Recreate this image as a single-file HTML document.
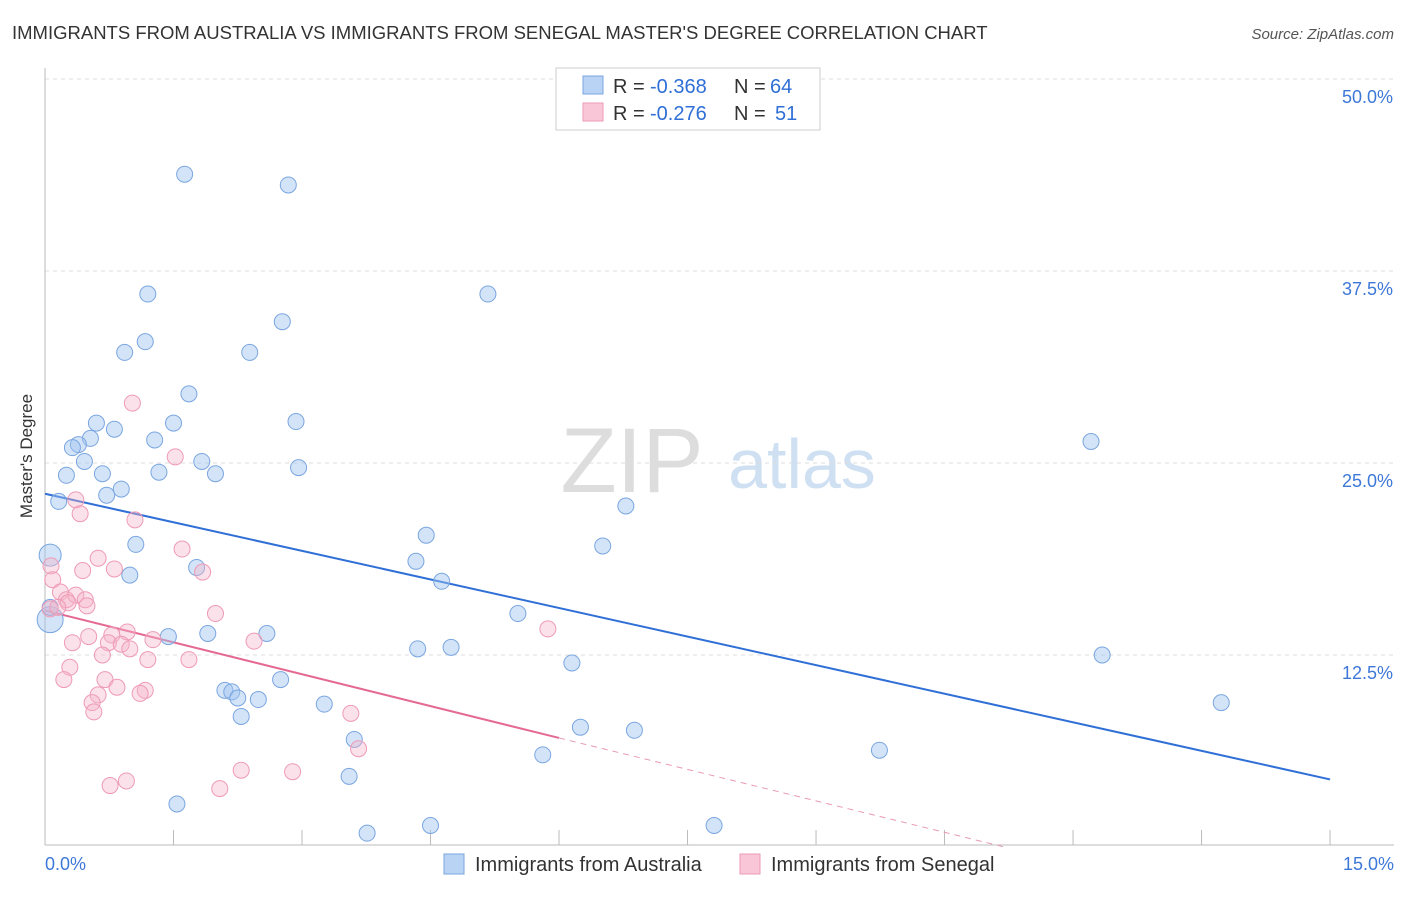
<!DOCTYPE html>
<html><head><meta charset="utf-8"><style>
body{margin:0;background:#fff;font-family:"Liberation Sans",sans-serif;}
svg text{font-family:"Liberation Sans",sans-serif;}
</style></head><body>
<svg id="chart" width="1406" height="892">
<text x="12" y="39" font-size="18.5" fill="#333">IMMIGRANTS FROM AUSTRALIA VS IMMIGRANTS FROM SENEGAL MASTER'S DEGREE CORRELATION CHART</text>
<text x="1394" y="39" font-size="15" fill="#555" font-style="italic" text-anchor="end">Source: ZipAtlas.com</text>
<text x="32" y="456" font-size="17" fill="#333" text-anchor="middle" transform="rotate(-90 32 456)">Master's Degree</text>
<g><text x="632" y="492" font-size="92" fill="#ddd" font-family="Liberation Serif" text-anchor="middle">ZIP</text><text x="802" y="488" font-size="70" fill="#cfe0f2" text-anchor="middle">atlas</text></g>
<g id="grid"></g><g id="axes"></g><g id="trend"></g><g id="pts"></g>
<g>
<rect x="556" y="68" width="264" height="62" fill="#fff" stroke="#ccc"/>
<rect x="583" y="76" width="20" height="18" fill="#b9d3f4" stroke="#7aa6e0"/>
<text x="613" y="93" font-size="20" fill="#333">R =</text><text x="650" y="93" font-size="20" fill="#2f6fd6">-0.368</text>
<text x="734" y="93" font-size="20" fill="#333">N =</text><text x="770" y="93" font-size="20" fill="#2f6fd6">64</text>
<rect x="583" y="103" width="20" height="18" fill="#f8c6d6" stroke="#ee9ab6"/>
<text x="613" y="120" font-size="20" fill="#333">R =</text><text x="650" y="120" font-size="20" fill="#2f6fd6">-0.276</text>
<text x="734" y="120" font-size="20" fill="#333">N =</text><text x="775" y="120" font-size="20" fill="#2f6fd6">51</text>
</g>
<g>
<rect x="444" y="854" width="20" height="20" fill="#b9d3f4" stroke="#7aa6e0"/>
<text x="475" y="871" font-size="20" fill="#333">Immigrants from Australia</text>
<rect x="740" y="854" width="20" height="20" fill="#f8c6d6" stroke="#ee9ab6"/>
<text x="771" y="871" font-size="20" fill="#333">Immigrants from Senegal</text>
</g>
</svg>
<script>
const yTicks=[12.5,25,37.5,50];
const yTickLabels=["12.5%","25.0%","37.5%","50.0%"];
const xTickVals=[0,1.5,3,4.5,6,7.5,9,10.5,12,13.5,15];
const blueX=[1.63,2.84,1.2,5.17,2.77,1.17,0.93,2.39,1.68,0.6,1.5,2.93,0.81,0.53,1.28,0.39,0.32,0.46,12.21,0.67,0.25,1.33,1.83,1.99,2.96,0.89,0.72,0.16,6.78,4.45,1.06,6.51,4.33,1.77,0.99,4.63,0.06,0.06,0.06,5.52,1.44,1.9,2.59,4.35,4.74,12.34,6.15,2.75,2.1,2.18,2.25,2.49,3.26,13.73,2.29,6.25,6.88,3.61,9.74,5.81,3.55,1.54,4.5,3.76,7.81];
const blueY=[43.8,43.1,36.0,36.0,34.2,32.9,32.2,32.2,29.5,27.6,27.6,27.7,27.2,26.6,26.5,26.2,26.0,25.1,26.4,24.3,24.2,24.4,25.1,24.3,24.7,23.3,22.9,22.5,22.2,20.3,19.7,19.6,18.6,18.2,17.7,17.3,19.0,14.8,15.6,15.2,13.7,13.9,13.9,12.9,13.0,12.5,11.98,10.9,10.2,10.1,9.7,9.6,9.3,9.4,8.5,7.8,7.6,7.0,6.3,6.0,4.6,2.8,1.4,0.9,1.4];
const blueR=[8,8,8,8,8,8,8,8,8,8,8,8,8,8,8,8,8,8,8,8,8,8,8,8,8,8,8,8,8,8,8,8,8,8,8,8,11,13,8,8,8,8,8,8,8,8,8,8,8,8,8,8,8,8,8,8,8,8,8,8,8,8,8,8,8];
const pinkX=[1.02,1.52,0.36,0.41,1.05,0.62,1.6,0.07,1.84,0.44,0.81,0.09,0.18,0.25,0.36,0.47,0.49,0.27,1.99,0.06,0.96,0.51,0.78,1.26,0.32,0.74,0.89,0.99,0.67,1.2,1.68,2.44,0.29,0.22,0.7,1.17,1.11,0.84,0.62,0.55,0.57,5.87,3.57,3.66,2.29,2.89,0.95,0.76,2.04,0.15];
const pinkY=[28.9,25.4,22.6,21.7,21.3,18.8,19.4,18.3,17.9,18.0,18.1,17.4,16.6,16.1,16.4,16.1,15.7,15.9,15.2,15.5,14.0,13.7,13.8,13.5,13.3,13.3,13.2,12.9,12.5,12.2,12.2,13.4,11.7,10.9,10.9,10.2,10.0,10.4,9.9,9.4,8.8,14.2,8.7,6.4,5.0,4.9,4.3,4.0,3.8,15.6];
const blueTrend=[[0,23.0],[15,4.4]];
const pinkTrend=[[0,15.4],[6,7.1]];
const pinkDash=[[6,7.1],[11.2,0]];
const xs=v=>45+v*85.67, ys=v=>847-v*15.36;
const NS="http://www.w3.org/2000/svg";
function mk(tag,attrs,parent){const e=document.createElementNS(NS,tag);for(const k in attrs)e.setAttribute(k,attrs[k]);document.getElementById(parent).appendChild(e);return e;}
yTicks.forEach((t,i)=>{
 const l=mk('line',{x1:45,x2:1394,y1:ys(t),y2:ys(t),stroke:'#ddd','stroke-dasharray':'4,4'},'grid');
 
 
 const tx=mk('text',{x:1393,y:ys(t)+24,'font-size':18,fill:'#3d78d8','text-anchor':'end'},'grid');
 tx.textContent=yTickLabels[i];
 
 
});
mk('line',{x1:45,x2:45,y1:68,y2:845,stroke:'#bbb'},'axes');
mk('line',{x1:45,x2:1394,y1:845,y2:845,stroke:'#bbb'},'axes');
xTickVals.forEach(v=>{const t=mk('line',{x1:xs(v),x2:xs(v),y1:830,y2:845,stroke:'#bbb'},'axes');
 
 });
const x0=mk('text',{x:45,y:870,'font-size':18,fill:'#3d78d8'},'axes');x0.textContent='0.0%';


const x1=mk('text',{x:1394,y:870,'font-size':18,fill:'#3d78d8','text-anchor':'end'},'axes');x1.textContent='15.0%';


blueX.forEach((v,i)=>{const c=mk('circle',{cx:xs(v),cy:ys(blueY[i]),r:blueR[i],fill:'rgba(160,195,240,0.45)',stroke:'#7aa6e0','stroke-width':1},'pts');
 
 });
pinkX.forEach((v,i)=>{const c=mk('circle',{cx:xs(v),cy:ys(pinkY[i]),r:8,fill:'rgba(245,180,200,0.4)',stroke:'#ee9ab6','stroke-width':1},'pts');
 
 });
const bt=mk('line',{x1:xs(blueTrend[0][0]),y1:ys(blueTrend[0][1]),x2:xs(blueTrend[1][0]),y2:ys(blueTrend[1][1]),stroke:'#2f6fd6','stroke-width':2},'trend');


const pt=mk('line',{x1:xs(pinkTrend[0][0]),y1:ys(pinkTrend[0][1]),x2:xs(pinkTrend[1][0]),y2:ys(pinkTrend[1][1]),stroke:'#e46a93','stroke-width':2},'trend');


const pd=mk('line',{x1:xs(pinkDash[0][0]),y1:ys(pinkDash[0][1]),x2:xs(pinkDash[1][0]),y2:ys(pinkDash[1][1]),stroke:'#e89ab5','stroke-width':1,'stroke-dasharray':'6,5'},'trend');


</script>
</body></html>
